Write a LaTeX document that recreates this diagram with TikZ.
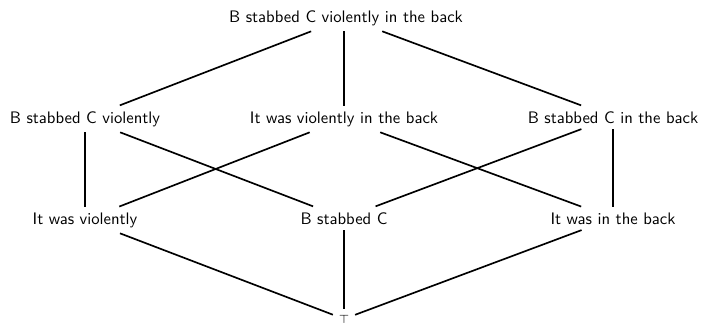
\documentclass[tikz,border=0pt]{standalone}
\usepackage{tikz}
\usetikzlibrary{positioning}

\begin{document}
\begin{tikzpicture}[x=0.6pt, y=-0.6pt, font=\sffamily,
    prop/.style={anchor=base},
    link/.style={line width=1pt}]
  \useasboundingbox (0,0) rectangle (701,324);

  %% Top element
  \node[prop] (bcvb) at (346,22) {B stabbed C violently in the back};

  %% Second row
  \node[prop] (bcv) at (85,123)  {B stabbed C violently};
  \node[prop] (wvb) at (344,123) {It was violently in the back};
  \node[prop] (bcb) at (613,123) {B stabbed C in the back};

  %% Third row
  \node[prop] (wv) at (85,224)  {It was violently};
  \node[prop] (bc) at (344,224) {B stabbed C};
  \node[prop] (wb) at (613,224) {It was in the back};

  %% Bottom element
  \node[prop, font=\scriptsize] (tp) at (344,323) {$\top$};

  %% Edges
  \draw[link] (bcvb) -- (bcv);
  \draw[link] (bcvb.south -| wvb.north) -- (wvb);
  \draw[link] (bcvb) -- (bcb);

  \draw[link] (bcv) -- (wv);
  \draw[link] (bcv) -- (bc);
  \draw[link] (wvb) -- (wv);
  \draw[link] (wvb) -- (wb);
  \draw[link] (bcb) -- (bc);
  \draw[link] (bcb) -- (wb);

  \draw[link] (wv) -- (tp);
  \draw[link] (bc) -- (tp);
  \draw[link] (wb) -- (tp);
\end{tikzpicture}
\end{document}
